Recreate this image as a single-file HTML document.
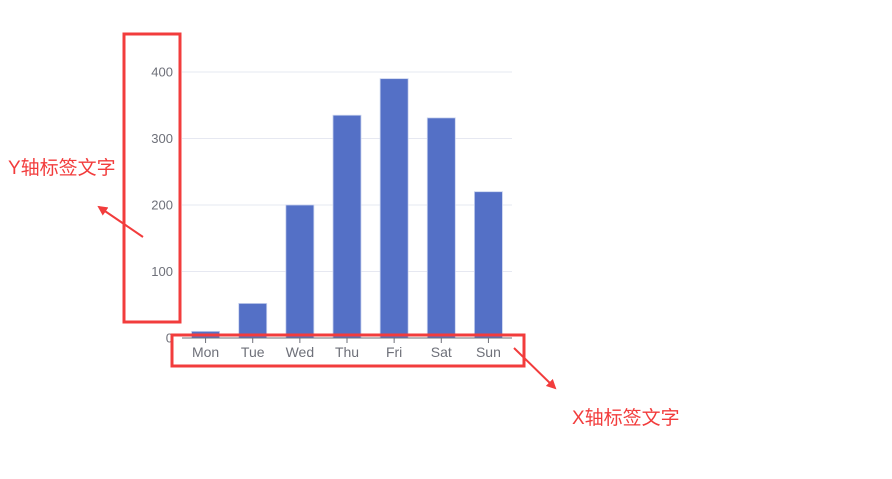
<!DOCTYPE html>
<html><head><meta charset="utf-8"><style>
html,body{margin:0;padding:0;background:#fff;}
svg{display:block;}
text{font-family:"Liberation Sans","Noto Sans CJK SC",sans-serif;}
</style></head><body>
<svg id="chart" width="892" height="479" viewBox="0 0 892 479">
<defs><marker id="ah" markerWidth="10" markerHeight="10" refX="8" refY="5" orient="auto" markerUnits="userSpaceOnUse"><path d="M0,0 L10,5 L0,10 Z" fill="#f23c3c"/></marker></defs>
<g id="grid"></g><g id="bars"></g><g id="axes"></g>
<rect x="124" y="34" width="56" height="288" fill="none" stroke="#f23c3c" stroke-width="3"/>
<rect x="172" y="335" width="352" height="31" fill="none" stroke="#f23c3c" stroke-width="3"/>
<line x1="143" y1="237" x2="99" y2="207" stroke="#f23c3c" stroke-width="2" marker-end="url(#ah)"/>
<line x1="514" y1="348" x2="555" y2="388" stroke="#f23c3c" stroke-width="2" marker-end="url(#ah)"/>
<text x="8" y="174" font-size="19" fill="#f23c3c">Y轴标签文字</text>
<text x="572" y="424" font-size="19" fill="#f23c3c">X轴标签文字</text>
</svg>
<script>
const categories=["Mon","Tue","Wed","Thu","Fri","Sat","Sun"];
const values=[10,52,200,335,390,331,220];
const yTicks=[0,100,200,300,400];
const NS="http://www.w3.org/2000/svg";
const x0=182,x1=512,yBase=338,yTop=72,yMax=400;
const band=(x1-x0)/categories.length;
const xC=i=>x0+band*(i+0.5);
const yS=v=>yBase-(v/yMax)*(yBase-yTop);
function mk(tag,attrs,parent){const e=document.createElementNS(NS,tag);for(const k in attrs)e.setAttribute(k,attrs[k]);document.getElementById(parent).appendChild(e);return e;}
yTicks.forEach(t=>{
  if(t>0){const g=mk("line",{x1:x0,x2:x1,y1:yS(t),y2:yS(t),stroke:"#e6e8f1","stroke-width":1},"grid");
  
  }
  const l=mk("text",{x:173,y:yS(t)+4.5,"text-anchor":"end","font-size":13,fill:"#6e7079"},"axes");
  l.textContent=t;
  
  
});
values.forEach((v,i)=>{
  const b=mk("rect",{x:xC(i)-14,y:yS(v),width:28,height:yBase-yS(v),fill:"#5470c6",stroke:"#c8d2ee","stroke-width":0.8},"bars");
  
  
});
const ax=mk("line",{x1:x0,x2:x1,y1:yBase,y2:yBase,stroke:"#6e7079","stroke-width":1},"axes");


categories.forEach((c,i)=>{
  const tk=mk("line",{x1:xC(i),x2:xC(i),y1:yBase,y2:yBase+5,stroke:"#6e7079","stroke-width":1},"axes");
  
  
  const t=mk("text",{x:xC(i),y:357,"text-anchor":"middle","font-size":14,fill:"#6e7079"},"axes");
  t.textContent=c;
  
  
});
</script>
</body></html>
